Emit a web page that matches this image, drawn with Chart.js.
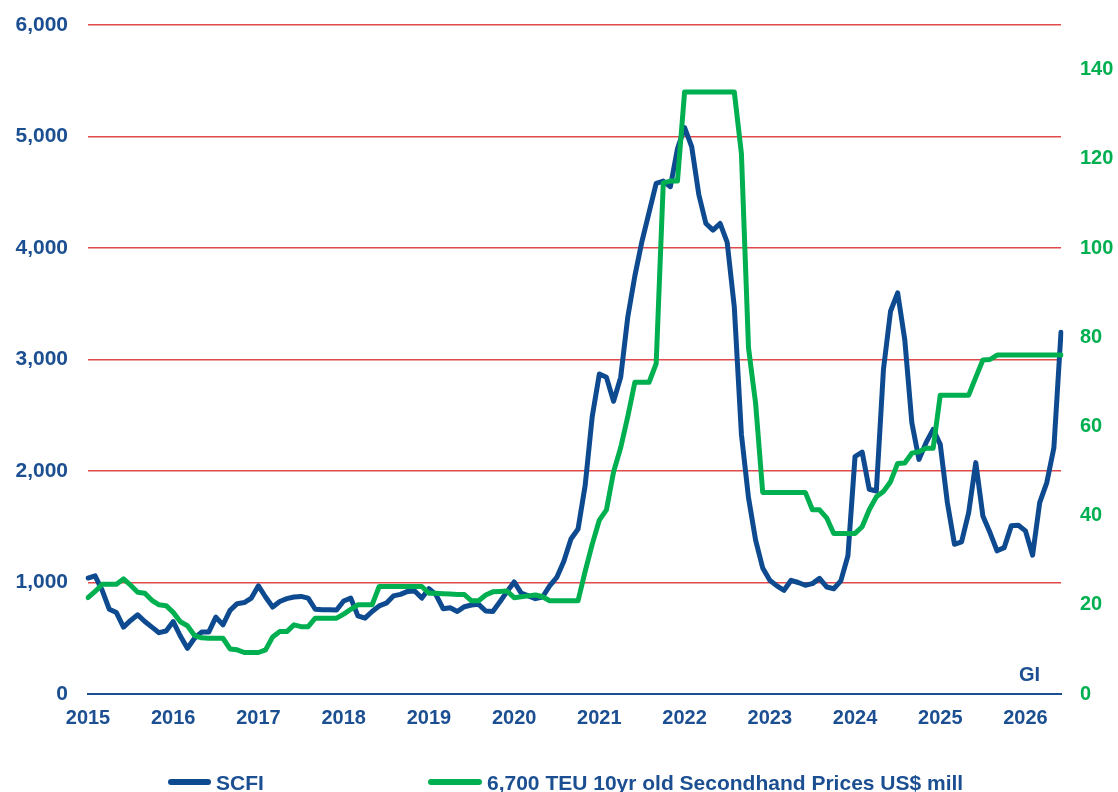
<!DOCTYPE html>
<html>
<head>
<meta charset="utf-8">
<script src="https://cdn.jsdelivr.net/npm/chart.js@4"></script>
<style>
  html, body { margin: 0; padding: 0; background: #fff; overflow: hidden; }
  #wrap { position: relative; width: 1118px; height: 792px; }
  .lg { position: absolute; top: 772px; font: bold 21px "Liberation Sans", Arial, sans-serif; color: #1b4f91; white-space: nowrap; line-height: 22px; }
  .lg i { display: inline-block; vertical-align: middle; height: 6px; border-radius: 3px; margin-right: 5px; position: relative; top: -2px; }
  #gi { position: absolute; left: 1019px; top: 663px; font: bold 20px "Liberation Sans", Arial, sans-serif; color: #1b4f91; }
</style>
</head>
<body>
<div id="wrap">
  <canvas id="chart" width="1118" height="792"></canvas>
  <div id="gi">GI</div>
  <div class="lg" style="left:168px"><i style="width:43px;background:#0e4a8f"></i>SCFI</div>
  <div class="lg" style="left:428px"><i style="width:54px;background:#00b050"></i>6,700 TEU 10yr old Secondhand Prices US$ mill</div>
</div>
<script>
// Year tick labels (one per January)
const yearLabels = ['2015', '2016', '2017', '2018', '2019', '2020', '2021', '2022', '2023', '2024', '2025', '2026'];

// SCFI, monthly Jan 2015 - Jun 2026
const scfi = [
    1040, 1060, 930, 760, 730, 600, 660, 710, 650, 600, 550, 565,
    650, 520, 410, 500, 555, 555, 690, 620, 750, 810, 820, 860,
    970, 870, 780, 830, 855, 870, 875, 860, 760, 755, 755, 753,
    834, 860, 700, 680, 740, 790, 815, 880, 894, 920, 924, 860,
    945, 890, 765, 774, 740, 783, 798, 804, 744, 740, 828, 918,
    1005, 905, 880, 855, 870, 970, 1045, 1190, 1390, 1480, 1870, 2490,
    2870, 2840, 2625, 2840, 3380, 3750, 4060, 4320, 4580, 4600, 4550, 4890,
    5080, 4910, 4480, 4220, 4160, 4220, 4050, 3470, 2330, 1760, 1380, 1130,
    1020, 970, 930, 1020, 1000, 975, 990, 1037, 960, 944, 1015, 1240,
    2130, 2170, 1836, 1821, 2910, 3433, 3597, 3179, 2433, 2104, 2254, 2373,
    2239, 1716, 1343, 1364, 1627, 2075, 1597, 1448, 1284, 1313, 1508, 1513,
    1463, 1245, 1716, 1896, 2209, 3245
];

// 6,700 TEU 10yr old secondhand price, US$ mill
const secondhand = [
    21.6, 23.0, 24.6, 24.6, 24.6, 25.8, 24.4, 22.8, 22.6, 21.0, 20.0, 19.8,
    18.3, 16.2, 15.3, 13.1, 12.6, 12.5, 12.5, 12.5, 10.1, 9.9, 9.3, 9.3,
    9.3, 9.9, 12.8, 14.0, 14.0, 15.5, 15.1, 15.1, 17.0, 17.0, 17.0, 17.0,
    17.9, 19.0, 20.0, 20.0, 20.0, 24.1, 24.1, 24.1, 24.1, 24.1, 24.1, 24.1,
    22.6, 22.6, 22.5, 22.4, 22.3, 22.3, 20.9, 20.9, 22.2, 22.9, 23.0, 23.1,
    21.6, 21.8, 22.0, 22.2, 21.8, 20.9, 20.9, 20.9, 20.9, 20.9, 27.5, 33.6,
    39.0, 41.3, 49.8, 55.2, 62.2, 69.9, 69.9, 69.9, 74.1, 114.6, 115.0, 115.0,
    135.0, 135.0, 135.0, 135.0, 135.0, 135.0, 135.0, 135.0, 121.2, 77.6, 65.2, 45.2,
    45.2, 45.2, 45.2, 45.2, 45.2, 45.2, 41.3, 41.3, 39.5, 36.0, 36.0, 36.0,
    36.0, 37.5, 41.3, 44.2, 45.4, 47.6, 51.7, 51.8, 54.0, 54.3, 55.1, 55.1,
    67.0, 67.0, 67.0, 67.0, 67.0, 71.0, 74.9, 75.0, 76.0, 76.0, 76.0, 76.0,
    76.0, 76.0, 76.0, 76.0, 76.0, 76.0
];

// one category per month
const months = [];
yearLabels.forEach(y => {
    for (let m = 1; m <= 12; m++) months.push(y + '-' + m);
});
months.length = scfi.length;

const blueText = '#1b4f91';
const fontFamily = '"Liberation Sans", Arial, sans-serif';

// fixed widths, and no extra label padding above/below the plot
function fitY(width) {
    return s => {
        s.width = width;
        s.paddingTop = 0;
        s.paddingBottom = 0;
    };
}

new Chart(document.getElementById('chart'), {
    type: 'line',
    data: {
        labels: months,
        datasets: [
            {
                label: 'SCFI',
                data: scfi,
                yAxisID: 'y',
                borderColor: '#0e4a8f',
                borderWidth: 5,
                order: 2
            },
            {
                label: '6,700 TEU 10yr old Secondhand Prices US$ mill',
                data: secondhand,
                yAxisID: 'y1',
                borderColor: '#00b050',
                borderWidth: 5,
                order: 1
            }
        ]
    },
    options: {
        responsive: false,
        animation: false,
        layout: { padding: { top: 25, bottom: 48, left: 0, right: 0 } },
        plugins: { legend: { display: false }, tooltip: { enabled: false } },
        elements: {
            point: { radius: 0 },
            line: { tension: 0, fill: false, borderJoinStyle: 'round', borderCapStyle: 'round' }
        },
        scales: {
            x: {
                grid: { display: false, drawTicks: false },
                border: { display: true, color: blueText, width: 2 },
                ticks: {
                    autoSkip: false,
                    maxRotation: 0,
                    padding: 12,
                    color: blueText,
                    font: { family: fontFamily, size: 20, weight: 'bold' },
                    callback: (v, i) => i % 12 === 0 ? yearLabels[i / 12] : ''
                },
                afterFit: s => { s.height = 50; }
            },
            y: {
                position: 'left',
                min: 0,
                max: 6000,
                ticks: {
                    stepSize: 1000,
                    padding: 20,
                    color: blueText,
                    font: { family: fontFamily, size: 21, weight: 'bold' },
                    callback: v => v.toLocaleString('en-US')
                },
                grid: {
                    drawTicks: false,
                    lineWidth: 1.5,
                    color: ctx => ctx.tick && ctx.tick.value === 0 ? 'rgba(0,0,0,0)' : '#e04a4a'
                },
                border: { display: false },
                afterFit: fitY(88)
            },
            y1: {
                position: 'right',
                min: 0,
                max: 150,
                ticks: {
                    stepSize: 20,
                    includeBounds: false,
                    padding: 19,
                    color: '#00b050',
                    font: { family: fontFamily, size: 20, weight: 'bold' }
                },
                grid: { display: false, drawTicks: false },
                border: { display: false },
                afterFit: fitY(57)
            }
        }
    }
});
</script>
</body>
</html>
